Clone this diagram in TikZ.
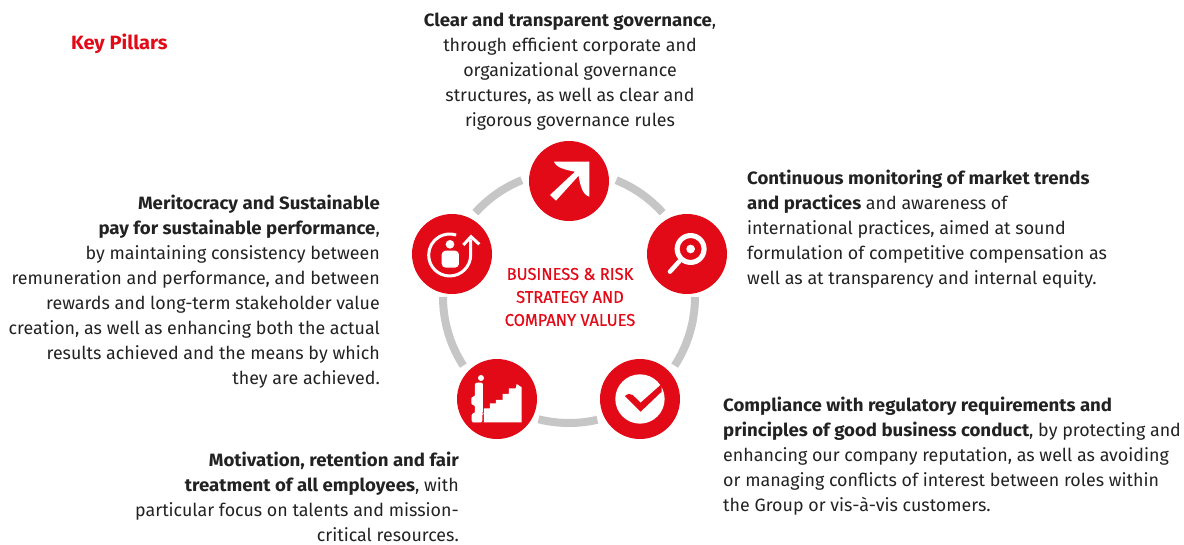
\documentclass[tikz,border=0pt]{standalone}
\usepackage{fontspec}
\setmainfont[BoldFeatures={FakeStretch=1.045}]{Fira Sans}
\newfontfamily\narrowfont[FakeStretch=0.97,FakeBold=0.5]{Fira Sans}
\definecolor{brandred}{HTML}{E30A17}
\definecolor{ringgray}{HTML}{C6C6C6}
\definecolor{bodytext}{HTML}{222222}
\tikzset{
  x=1pt,y=-1pt,
  pillar/.style={circle,fill=brandred,minimum size=80pt,inner sep=0pt},
  ringarc/.style={draw=ringgray,line width=8pt},
  para/.style={font=\fontsize{17.85}{25}\selectfont,text=bodytext,inner sep=0pt},
  icon/.style={fill=white,draw=none},
  zoomA/.style={shift={(400,130)},x=0.3333pt,y=-0.3333pt},
  zoomB/.style={shift={(430,300)},x=0.3333pt,y=-0.3333pt},
}
\begin{document}
\begin{tikzpicture}
\useasboundingbox (0,0) rectangle (1184,544);
% ring
\coordinate (ringc) at (569,297);
\foreach \a/\b in {112/138,42/68,-33/0,180/213,256/283}{
  \draw[ringarc] (ringc) ++(-\a:126) arc[start angle=-\a,end angle=-\b,radius=126];
}
% pillars
\node[pillar] (top) at (569,181) {};
\node[pillar] (left) at (452,254) {};
\node[pillar] (right) at (687,254) {};
\node[pillar] (bl) at (497,399) {};
\node[pillar] (br) at (640,399) {};
% arrow icon
\begin{scope}[zoomA]
\fill[icon] (462,95) -- (568,95) -- (568,200) .. controls (548,195) and (540,165) .. (536,137) -- (468,212) -- (450,195) -- (525,125) .. controls (500,120) and (470,115) .. cycle;
% person icon
\draw[white,line width=3pt] (212,328) -- (212,375) arc[start angle=0,end angle=288,radius=63];
\draw[white,line width=3pt] (190,345) -- (213,320) -- (238,343);
\fill[icon] (150,343) circle[radius=13];
\fill[icon,rounded corners=4pt] (125,362) rectangle (177,413);
% magnifier icon
\fill[icon,even odd rule] (872,357) circle[radius=48] (872,357) circle[radius=33];
\fill[icon] (872,357) circle[radius=13];
\draw[white,line width=4.5pt,line cap=round] (838,394) -- (810,425);
\end{scope}
\begin{scope}[zoomB]
% stairs icon
\fill[icon] (125,367) -- (275,367) -- (275,262) -- (260,252) -- (257,265) -- (237,265) -- (237,282) -- (218,282) -- (218,300) -- (198,300) -- (198,310) -- (180,310) -- (180,325) -- (162,325) -- (162,367) -- cycle;
\fill[icon] (153,234) circle[radius=9];
\fill[icon,rounded corners=2pt] (135,248) -- (159,248) -- (159,340) -- (157,340) -- (157,367) -- (125,367) -- (125,340) -- (135,340) -- (135,315) -- (124,315) -- (124,290) -- (135,290) -- cycle;
% check icon
\fill[icon] (630,297) circle[radius=74];
\fill[brandred] (585,288) .. controls (592,281) and (602,280) .. (608,285) -- (632,308) -- (695,252) -- (695,275) -- (632,335) -- cycle;
\end{scope}
% texts
\node[font=\bfseries\fontsize{19.2}{22}\selectfont,text=brandred,anchor=base west,inner sep=0pt] (title) at (71,49) {Key Pillars};
\node[para,align=center,anchor=north] (t1) at (570,13) {\textbf{Clear and transparent governance},\\through efficient corporate and\\organizational governance\\structures, as well as clear and\\rigorous governance rules};
\node[para,align=left,anchor=north west] (t2) at (747,170) {\textbf{Continuous monitoring of market trends}\\\textbf{and practices} and awareness of\\international practices, aimed at sound\\formulation of competitive compensation as\\well as at transparency and internal equity.};
\node[para,align=left,anchor=north west] (t3) at (723,397) {\textbf{Compliance with regulatory requirements and}\\\textbf{principles of good business conduct}, by protecting and\\enhancing our company reputation, as well as avoiding\\or managing conflicts of interest between roles within\\the Group or vis-à-vis customers.};
\node[para,align=right,anchor=north east] (t4) at (459,452) {\textbf{Motivation, retention and fair}\\\textbf{treatment of all employees}, with\\particular focus on talents and mission-\\critical resources.};
\node[para,align=right,anchor=north east] (t5) at (380,195) {\textbf{Meritocracy and Sustainable}\\\textbf{pay for sustainable performance},\\by maintaining consistency between\\remuneration and performance, and between\\rewards and long-term stakeholder value\\creation, as well as enhancing both the actual\\results achieved and the means by which\\they are achieved.};
\node[align=center,text=brandred,inner sep=0pt,font=\narrowfont\fontsize{17}{23}\selectfont] (centre) at (570,297) {BUSINESS \& RISK\\STRATEGY AND\\COMPANY VALUES};
\end{tikzpicture}
\end{document}
